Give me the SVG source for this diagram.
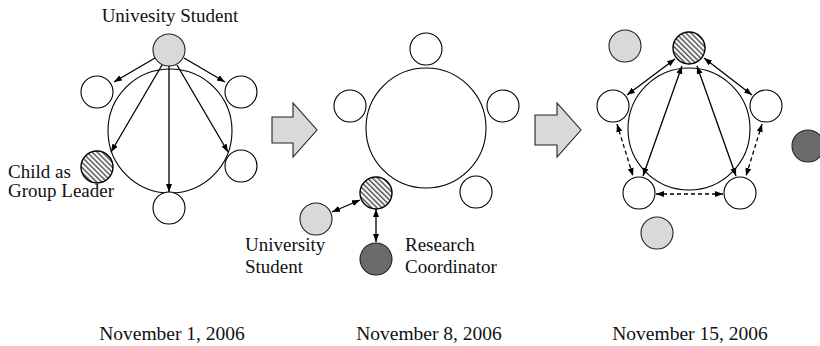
<svg xmlns="http://www.w3.org/2000/svg" width="820" height="346" viewBox="0 0 820 346">
<defs>
<pattern id="hatch" patternUnits="userSpaceOnUse" width="3.6" height="3.6" patternTransform="rotate(-45)">
<rect width="3.6" height="3.6" fill="#fff"/>
<line x1="0.8" y1="0" x2="0.8" y2="3.6" stroke="#000" stroke-width="1"/>
</pattern>
<marker id="ah" markerUnits="userSpaceOnUse" markerWidth="9" markerHeight="7" refX="8" refY="3" orient="auto-start-reverse">
<path d="M0,0 L8,3 L0,6 z" fill="#000"/>
</marker>
</defs>
<style>
.n{fill:#fff;stroke:#000;stroke-width:1.1}
.big{fill:none;stroke:#000;stroke-width:1.1}
.lg{fill:#d9d9d9;stroke:#222;stroke-width:1.1}
.dg{fill:#6b6b6b;stroke:#222;stroke-width:1.1}
.h{fill:url(#hatch);stroke:#000;stroke-width:1.4}
.bar{fill:#d9d9d9;stroke:#222;stroke-width:1.1}
.c{fill:none;stroke:#000;stroke-width:1.3}
.s{marker-end:url(#ah)}
.d{marker-start:url(#ah);marker-end:url(#ah)}
.dash{stroke-dasharray:4,3}
text{font-family:"Liberation Serif","Times New Roman",serif;font-size:19px;fill:#111}
.date{font-size:19.5px;text-anchor:middle}
</style>

<!-- Panel 1 -->
<g id="p1-ring"><circle class="big" cx="170" cy="131" r="62"/></g>
<g id="p1-student"><circle class="lg" cx="169" cy="50" r="16"/><text x="170" y="22" text-anchor="middle">Univesity Student</text></g>
<g id="p1-left"><circle class="n" cx="97" cy="92" r="16"/></g>
<g id="p1-right"><circle class="n" cx="241" cy="92" r="16"/></g>
<g id="p1-leader"><circle class="h" cx="97" cy="167" r="16"/><text x="8" y="178">Child as</text><text x="8" y="197">Group Leader</text></g>
<g id="p1-rightlow"><circle class="n" cx="241" cy="166" r="16"/></g>
<g id="p1-bottom"><circle class="n" cx="169" cy="208" r="16"/></g>

<!-- Panel 2 -->
<g id="p2-ring"><circle class="big" cx="426" cy="128" r="60"/></g>
<g id="p2-top"><circle class="n" cx="426" cy="49" r="16"/></g>
<g id="p2-left"><circle class="n" cx="350" cy="106" r="16"/></g>
<g id="p2-right"><circle class="n" cx="503" cy="106" r="16"/></g>
<g id="p2-rightlow"><circle class="n" cx="476" cy="192" r="16"/></g>
<g id="p2-leader"><circle class="h" cx="376" cy="193" r="16"/></g>
<g id="p2-student"><circle class="lg" cx="316" cy="219" r="16"/><text x="245" y="251">University</text><text x="245" y="273">Student</text></g>
<g id="p2-coord"><circle class="dg" cx="376" cy="259" r="16"/><text x="405" y="251">Research</text><text x="405" y="273">Coordinator</text></g>

<!-- Panel 3 -->
<g id="p3-ring"><circle class="big" cx="689" cy="129" r="61"/></g>
<g id="p3-leader"><circle class="h" cx="689" cy="48" r="16"/></g>
<g id="p3-gray1"><circle class="lg" cx="625" cy="46" r="16"/></g>
<g id="p3-left"><circle class="n" cx="613" cy="106" r="16"/></g>
<g id="p3-right"><circle class="n" cx="766" cy="106" r="16"/></g>
<g id="p3-bl"><circle class="n" cx="639" cy="193" r="16"/></g>
<g id="p3-br"><circle class="n" cx="740" cy="193" r="16"/></g>
<g id="p3-gray2"><circle class="lg" cx="657" cy="233" r="16"/></g>
<g id="p3-dark"><circle class="dg" cx="808" cy="146" r="16"/></g>

<!-- Transition arrows -->
<g id="arrow1"><polygon class="bar" points="272,117 293,117 293,103 317,130 293,157 293,143 272,143"/></g>
<g id="arrow2"><polygon class="bar" points="535,115 557,115 557,103 581,130 557,157 557,145 535,145"/></g>

<!-- Connectors -->
<g id="connectors">
<line class="c s" x1="155" y1="58" x2="114" y2="82"/>
<line class="c s" x1="162" y1="65" x2="111" y2="152"/>
<line class="c s" x1="169" y1="66" x2="169" y2="192"/>
<line class="c s" x1="177" y1="65" x2="228" y2="152"/>
<line class="c s" x1="184" y1="58" x2="225" y2="82"/>

<line class="c d" x1="360" y1="200" x2="332" y2="212"/>
<line class="c d" x1="376" y1="209" x2="376" y2="242"/>

<line class="c d" x1="675" y1="59" x2="627" y2="95"/>
<line class="c d" x1="704" y1="58" x2="752" y2="95"/>
<line class="c d" x1="682" y1="66" x2="643" y2="176"/>
<line class="c d" x1="697" y1="66" x2="736" y2="176"/>
<line class="c d dash" x1="617" y1="124" x2="633" y2="176"/>
<line class="c d dash" x1="762" y1="124" x2="746" y2="176"/>
<line class="c d dash" x1="656" y1="194" x2="723" y2="194"/>
</g>

<!-- Dates -->
<g id="dates">
<text class="date" x="172" y="340">November 1, 2006</text>
<text class="date" x="429" y="340">November 8, 2006</text>
<text class="date" x="690" y="340">November 15, 2006</text>
</g>
</svg>
